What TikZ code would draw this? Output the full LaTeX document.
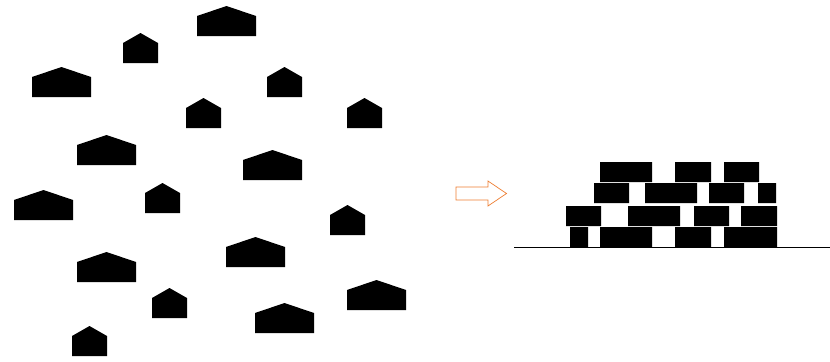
\documentclass[tikz,border=0pt]{standalone}
\usepackage{xcolor}
\usepackage{tikz}
\usetikzlibrary{positioning}

\definecolor{arroworange}{RGB}{237,125,49}

\begin{document}
\begin{tikzpicture}[
    x=0.03cm, y=-0.03cm,
    widehouse/.pic={\fill[black] (0,0) -- (59,0) -- (59,-20) -- (29.5,-30) -- (0,-20) -- cycle;},
    smallhouse/.pic={\fill[black] (0,0) -- (35,0) -- (35,-20) -- (17.5,-30) -- (0,-20) -- cycle;},
    brick/.style={fill=black},
    outlinearrow/.style={draw=arroworange, line width=0.6pt, line join=miter}
]
\useasboundingbox (0,0) rectangle (830,362);

% Scattered wide houses
\pic (w1) at (197,36) {widehouse};
\pic (w2) at (32,97) {widehouse};
\pic (w3) at (77,165) {widehouse};
\pic (w4) at (243,180) {widehouse};
\pic (w5) at (14,220) {widehouse};
\pic (w6) at (226,267) {widehouse};
\pic (w7) at (77,282) {widehouse};
\pic (w8) at (347,310) {widehouse};
\pic (w9) at (255,333) {widehouse};

% Scattered small houses
\pic (s1) at (123,63) {smallhouse};
\pic (s2) at (267,97) {smallhouse};
\pic (s3) at (186,128) {smallhouse};
\pic (s4) at (347,128) {smallhouse};
\pic (s5) at (145,213) {smallhouse};
\pic (s6) at (330,235) {smallhouse};
\pic (s7) at (152,318) {smallhouse};
\pic (s8) at (72,356) {smallhouse};

% Outline arrow
\draw[outlinearrow] (456,187) -- (488,187) -- (488,181) -- (506.5,193.5)
    -- (488,206) -- (488,200) -- (456,200) -- cycle;

% Wall of bricks, top row first
\fill[brick] (600,162) rectangle (652,182) (675,162) rectangle (711,182) (724,162) rectangle (759,182);
\fill[brick] (594,183) rectangle (629,203) (645,183) rectangle (697,203) (709,183) rectangle (744,203) (758,183) rectangle (776,203);
\fill[brick] (566,206) rectangle (601,226) (628,206) rectangle (680,226) (694,206) rectangle (729,226) (741,206) rectangle (777,226);
\fill[brick] (570,227) rectangle (588,247) (600,227) rectangle (652,247) (675,227) rectangle (711,247) (724,227) rectangle (777,247);

% Ground
\draw[line width=0.8pt] (514,247) -- (830,247);

\end{tikzpicture}
\end{document}
